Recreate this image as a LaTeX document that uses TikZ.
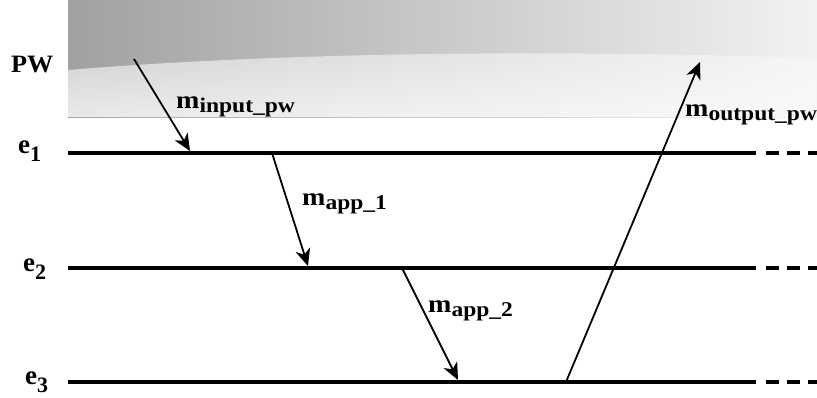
\documentclass[tikz,border=0pt]{standalone}
\usepackage{fontspec}
\setmainfont{Liberation Serif}
\usetikzlibrary{arrows.meta,fadings}
\tikzfading[name=fade down, top color=transparent!100, bottom color=transparent!45]
\newcommand{\msub}[1]{\raisebox{-4.5pt}{\fontsize{21}{21}\selectfont #1}}
\newcommand{\esub}[1]{\raisebox{-8.5pt}{\fontsize{22}{22}\selectfont #1}}
\begin{document}
\begin{tikzpicture}
[x=1pt, y=-1pt, >={Stealth[length=17pt, width=15pt, inset=5pt]},
 lbl/.style={anchor=base west, inner sep=0pt, font=\fontsize{25}{25}\selectfont\bfseries, xscale=1.12},
 ev/.style={anchor=base west, inner sep=0pt, font=\fontsize{27}{27}\selectfont\bfseries},
 event/.style={line width=4pt},
 tail/.style={line width=4pt, dash pattern=on 13pt off 8pt},
 msg/.style={->, line width=1.8pt}]
\useasboundingbox (0,0) rectangle (817,397);

% grey band of the PW
\shade[left color=black!37, right color=black!5] (68,0) rectangle (817,117);
\shade[left color=black!18, right color=black!4]
  (68,70) .. controls (250,55) and (500,48) .. (817,58) -- (817,117) -- (68,117) -- cycle;
\fill[white, path fading=fade down]
  (68,70) .. controls (250,55) and (500,48) .. (817,58) -- (817,117) -- (68,117) -- cycle;

\node[font=\fontsize{25}{25}\selectfont\bfseries, anchor=base west, inner sep=0pt, xscale=1.05] (PW) at (11,72) {PW};
\node[ev] (e1) at (18,153) {e\esub{1}};
\node[ev] (e2) at (23,271) {e\esub{2}};
\node[ev] (e3) at (25,384) {e\esub{3}};

\coordinate (e1-start) at (68,153);
\coordinate (e1-end) at (756,153);
\coordinate (e1-dash) at (766,153);
\coordinate (e1-stop) at (817,153);
\coordinate (e2-start) at (68,268);
\coordinate (e2-end) at (756,268);
\coordinate (e2-dash) at (766,268);
\coordinate (e2-stop) at (817,268);
\coordinate (e3-start) at (68,382);
\coordinate (e3-end) at (756,382);
\coordinate (e3-dash) at (766,382);
\coordinate (e3-stop) at (817,382);
\draw[event] (e1-start) -- (e1-end);
\draw[event] (e2-start) -- (e2-end);
\draw[event] (e3-start) -- (e3-end);
\draw[tail] (e1-dash) -- (e1-stop);
\draw[tail] (e2-dash) -- (e2-stop);
\draw[tail] (e3-dash) -- (e3-stop);

\coordinate (pw-out) at (134,59);
\coordinate (e1-in) at (190,151);
\coordinate (e1-out) at (272,153);
\coordinate (e2-in) at (308,266);
\coordinate (e2-out) at (402,268);
\coordinate (e3-in) at (458,380);
\coordinate (e3-out) at (566,382);
\coordinate (pw-in) at (700,62);
\draw[msg] (pw-out) -- (e1-in);
\draw[msg] (e1-out) -- (e2-in);
\draw[msg] (e2-out) -- (e3-in);
\draw[msg] (e3-out) -- (pw-in);

\node[lbl] (mInput) at (176,108) {m\msub{input\_pw}};
\node[lbl] (mApp1) at (302,205) {m\msub{app\_1}};
\node[lbl] (mApp2) at (428,312) {m\msub{app\_2}};
\node[lbl] (mOutput) at (685,116) {m\msub{output\_pw}};
\end{tikzpicture}
\end{document}
